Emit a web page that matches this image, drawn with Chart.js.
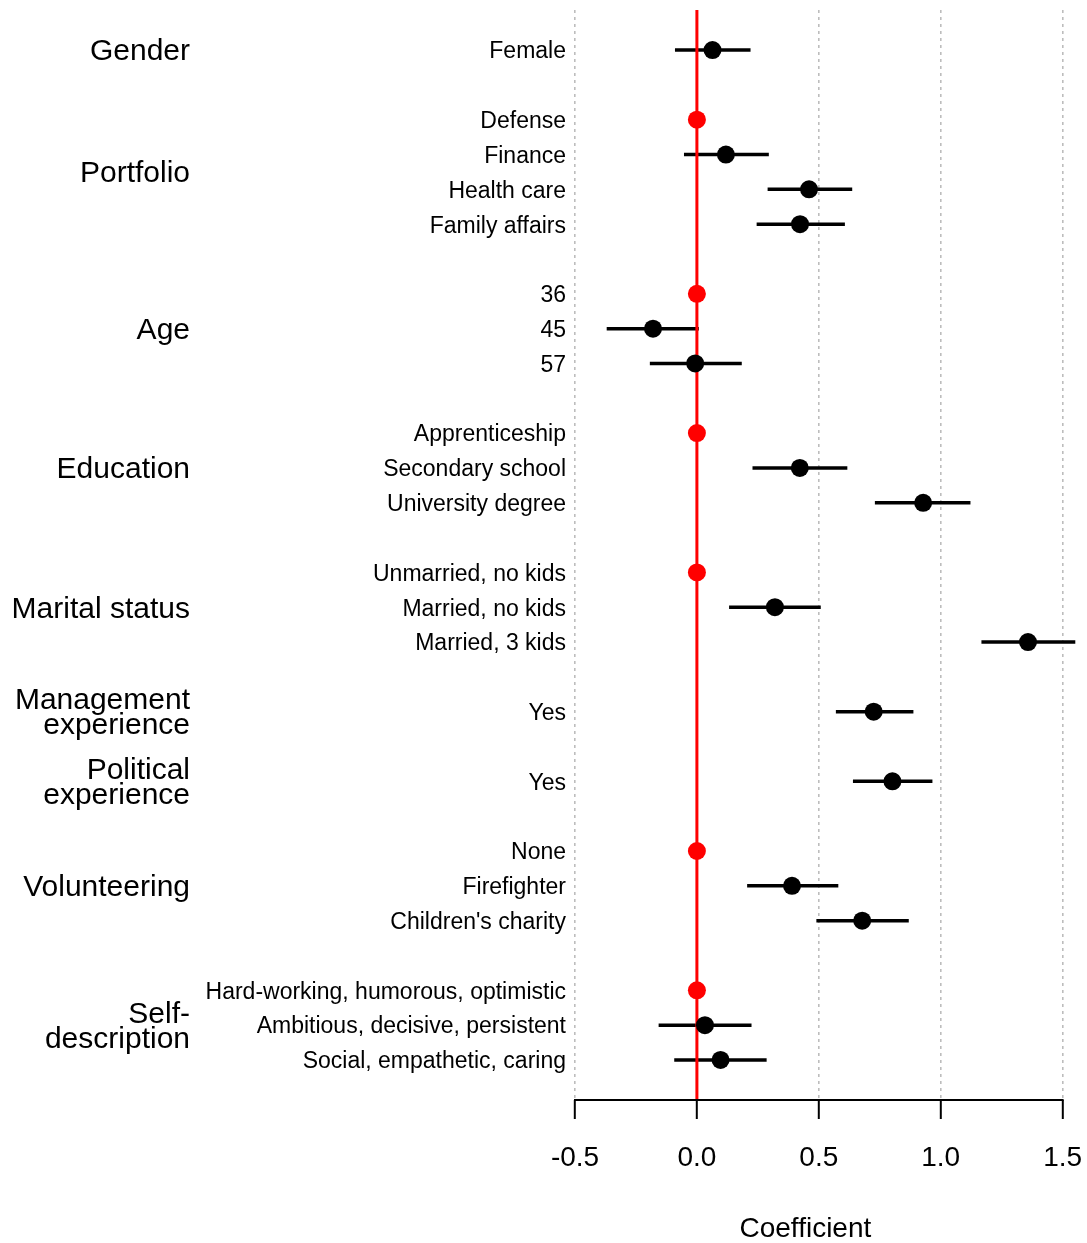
<!DOCTYPE html>
<html>
<head>
<meta charset="utf-8">
<title>Coefficient plot</title>
<script src="https://cdn.jsdelivr.net/npm/chart.js@4.4.1/dist/chart.umd.min.js"></script>
<style>
    html, body { margin: 0; padding: 0; background: #fff; overflow: hidden; }
    #wrap { width: 1087px; height: 1243px; position: relative; }
</style>
</head>
<body>
<div id="wrap"><canvas id="coefChart"></canvas></div>
<script>
// Rows from top to bottom; empty strings are the gaps between groups
const rowLabels = [
    'Female', '',
    'Defense', 'Finance', 'Health care', 'Family affairs', '',
    '36', '45', '57', '',
    'Apprenticeship', 'Secondary school', 'University degree', '',
    'Unmarried, no kids', 'Married, no kids', 'Married, 3 kids', '',
    'Yes', '',
    'Yes', '',
    'None', 'Firefighter', "Children's charity", '',
    'Hard-working, humorous, optimistic', 'Ambitious, decisive, persistent', 'Social, empathetic, caring'
];

const estimates = [
    0.064, null,
    0, 0.119, 0.46, 0.423, null,
    0, -0.18, -0.007, null,
    0, 0.422, 0.928, null,
    0, 0.32, 1.358, null,
    0.725, null,
    0.802, null,
    0, 0.39, 0.678, null,
    0, 0.033, 0.097
];

const ciLower = [
    -0.09, null,
    null, -0.053, 0.29, 0.245, null,
    null, -0.37, -0.193, null,
    null, 0.228, 0.73, null,
    null, 0.132, 1.167, null,
    0.57, null,
    0.64, null,
    null, 0.206, 0.49, null,
    null, -0.157, -0.093
];

const ciUpper = [
    0.22, null,
    null, 0.295, 0.637, 0.607, null,
    null, 0.008, 0.184, null,
    null, 0.617, 1.122, null,
    null, 0.508, 1.552, null,
    0.888, null,
    0.966, null,
    null, 0.58, 0.869, null,
    null, 0.224, 0.286
];

// Group headings and the row they are centred on
const groupNames = [
    ['Gender'], ['Portfolio'], ['Age'], ['Education'], ['Marital status'],
    ['Management', 'experience'], ['Political', 'experience'],
    ['Volunteering'], ['Self-', 'description']
];
const groupRows = [0, 3.5, 8, 12, 16, 19, 21, 24, 28];

const referenceValue = 0;
const xMin = -0.5;
const xMax = 1.6;
const xStep = 0.5;
const yMin = -1.15;
const yMax = 30.15;
const titleCenter = 0.445;

const FONT = "'Liberation Sans', Arial, sans-serif";

// Split rows into estimated ones (black) and reference categories (red)
const estPoints = [];
const refPoints = [];
rowLabels.forEach((label, i) => {
    if (estimates[i] === null) return;
    if (ciLower[i] === null) {
        refPoints.push({ x: estimates[i], y: i });
    } else {
        estPoints.push({ x: estimates[i], y: i });
    }
});

const errorBarSets = [];
rowLabels.forEach((label, i) => {
    if (ciLower[i] === null) return;
    errorBarSets.push({
        type: 'line',
        data: [{ x: ciLower[i], y: i }, { x: ciUpper[i], y: i }],
        borderColor: '#000',
        borderWidth: 3.5,
        pointRadius: 0,
        borderCapStyle: 'butt',
        order: 3
    });
});

/**
 * Group headings, axis line and axis title
 */
const decorPlugin = {
    id: 'decor',
    afterDraw(chart) {
        const ctx = chart.ctx;
        const xs = chart.scales.x;
        const ys = chart.scales.y;

        ctx.save();
        ctx.fillStyle = '#000';
        ctx.font = '30px ' + FONT;
        ctx.textAlign = 'right';
        ctx.textBaseline = 'middle';
        const lineGap = 25;
        groupNames.forEach((lines, k) => {
            const cy = ys.getPixelForValue(groupRows[k]) + 2;
            const top = cy - (lines.length - 1) * lineGap / 2;
            lines.forEach((txt, j) => {
                ctx.fillText(txt, 190, top + j * lineGap);
            });
        });

        // x axis line spans first to last tick only
        const ticks = xs.ticks;
        const x0 = xs.getPixelForValue(ticks[0].value);
        const x1 = xs.getPixelForValue(ticks[ticks.length - 1].value);
        ctx.strokeStyle = '#000';
        ctx.lineWidth = 2;
        ctx.beginPath();
        ctx.moveTo(x0 - 1, xs.top);
        ctx.lineTo(x1 + 1, xs.top);
        ctx.stroke();

        ctx.font = '28px ' + FONT;
        ctx.textAlign = 'center';
        ctx.fillText('Coefficient', xs.getPixelForValue(titleCenter), chart.height - 14);
        ctx.restore();
    }
};

function createCoefChart() {
    const ctx = document.getElementById('coefChart');

    new Chart(ctx, {
        type: 'scatter',
        data: {
            datasets: [
                {
                    data: estPoints,
                    pointRadius: 9,
                    pointBackgroundColor: '#000',
                    pointBorderWidth: 0,
                    order: 0
                },
                {
                    data: refPoints,
                    pointRadius: 9,
                    pointBackgroundColor: '#ff0000',
                    pointBorderWidth: 0,
                    order: 1
                },
                {
                    type: 'line',
                    data: [{ x: referenceValue, y: yMin }, { x: referenceValue, y: yMax }],
                    borderColor: '#ff0000',
                    borderWidth: 3,
                    pointRadius: 0,
                    order: 2
                },
                ...errorBarSets
            ]
        },
        options: {
            responsive: true,
            maintainAspectRatio: false,
            animation: false,
            layout: {
                autoPadding: false,
                padding: { top: 10, right: 0, bottom: 0, left: 0 }
            },
            plugins: {
                legend: { display: false },
                tooltip: { enabled: false }
            },
            scales: {
                x: {
                    type: 'linear',
                    position: 'bottom',
                    min: xMin,
                    max: xMax,
                    border: { display: false, dash: [3, 4] },
                    grid: {
                        color: '#bdbdbd',
                        lineWidth: 1.6,
                        drawTicks: true,
                        tickLength: 19,
                        tickColor: '#000',
                        tickWidth: 2,
                        tickBorderDash: []
                    },
                    ticks: {
                        stepSize: xStep,
                        includeBounds: false,
                        color: '#000',
                        padding: 22,
                        maxRotation: 0,
                        font: { family: FONT, size: 28 },
                        callback: (v) => Number(v).toFixed(1)
                    },
                    afterFit(scale) {
                        scale.height = 143;
                        scale.paddingLeft = 0;
                        scale.paddingRight = 0;
                    }
                },
                y: {
                    type: 'linear',
                    reverse: true,
                    min: yMin,
                    max: yMax,
                    border: { display: false },
                    grid: { display: false, drawTicks: false },
                    ticks: {
                        stepSize: 1,
                        includeBounds: false,
                        autoSkip: false,
                        crossAlign: 'near',
                        padding: 9,
                        labelOffset: 2,
                        color: '#000',
                        font: { family: FONT, size: 23 },
                        callback: (v) => rowLabels[v] || ''
                    },
                    afterFit(scale) {
                        scale.width = 575;
                        scale.paddingTop = 0;
                        scale.paddingBottom = 0;
                    }
                }
            }
        },
        plugins: [decorPlugin]
    });
}

document.addEventListener('DOMContentLoaded', createCoefChart);
</script>
</body>
</html>
